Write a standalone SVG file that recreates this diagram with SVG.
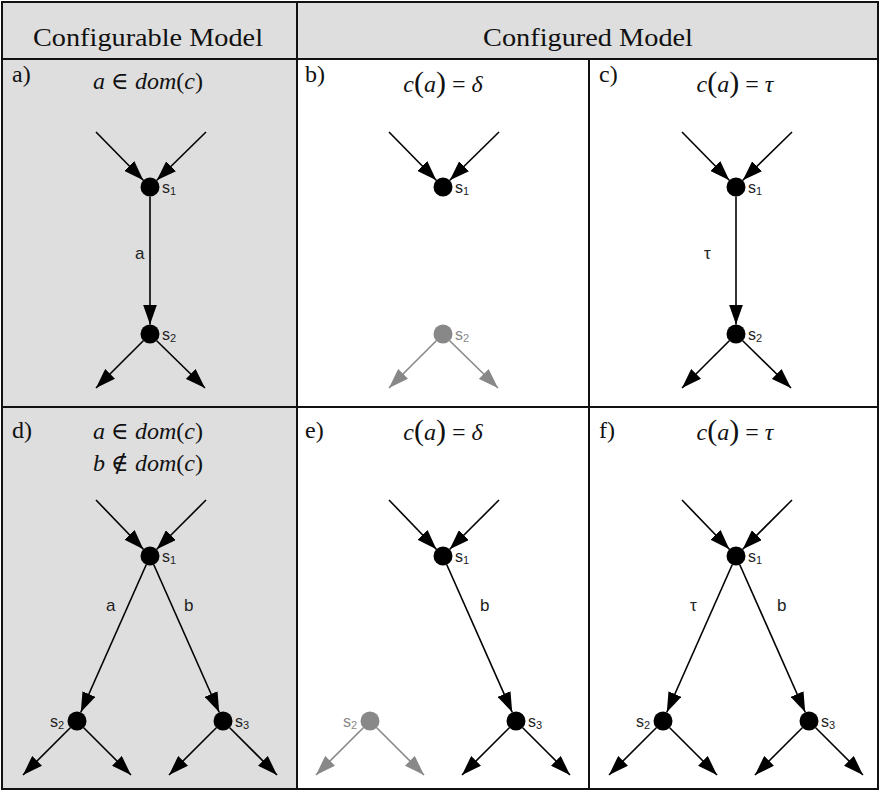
<svg xmlns="http://www.w3.org/2000/svg" width="880" height="791" viewBox="0 0 880 791">
<defs>
<style>
.hdr{font-family:"Liberation Serif","DejaVu Serif",serif;font-size:26px;fill:#111;text-anchor:middle}
.tag{font-family:"Liberation Serif","DejaVu Serif",serif;font-size:24px;fill:#111}
.math{font-family:"Liberation Serif","DejaVu Serif",serif;font-size:24px;fill:#111;text-anchor:middle}
.it{font-style:italic}
.par{font-size:30px}
.lbl{font-family:"Liberation Sans",Arial,sans-serif;font-size:16px;fill:#222}
.elbl{font-family:"Liberation Sans",Arial,sans-serif;font-size:17px;fill:#222}
.sub{font-size:11px}
.edge{stroke:#000;stroke-width:1.6;fill:none;marker-end:url(#ah)}
.gedge{stroke:#888;stroke-width:1.6;fill:none;marker-end:url(#gah)}
.node{fill:#000}
.gnode{fill:#888}
.glbl{fill:#888}
.grid{stroke:#111;stroke-width:2;fill:none}
</style>
<marker id="ah" viewBox="0 0 20 14" refX="20" refY="7" markerWidth="20" markerHeight="14" markerUnits="userSpaceOnUse" orient="auto">
<path d="M0,0 L20,7 L0,14 z" fill="#000"/>
</marker>
<marker id="gah" viewBox="0 0 20 14" refX="20" refY="7" markerWidth="20" markerHeight="14" markerUnits="userSpaceOnUse" orient="auto">
<path d="M0,0 L20,7 L0,14 z" fill="#888"/>
</marker>
</defs>
<rect width="880" height="791" fill="#fff"/>
<rect x="2" y="2" width="876" height="57" fill="#dedede"/>
<rect x="2" y="59" width="295" height="730" fill="#dedede"/>
<g id="grid">
<rect class="grid" x="2" y="2" width="876" height="787"/>
<line class="grid" x1="2" y1="59" x2="878" y2="59"/>
<line class="grid" x1="2" y1="407" x2="878" y2="407"/>
<line class="grid" x1="297" y1="2" x2="297" y2="789"/>
<line class="grid" x1="589" y1="59" x2="589" y2="789"/>
</g>
<g id="headers">
<text class="hdr" x="148" y="46" textLength="230" lengthAdjust="spacingAndGlyphs">Configurable Model</text>
<text class="hdr" x="588" y="46" textLength="210" lengthAdjust="spacingAndGlyphs">Configured Model</text>
</g>
<g id="captions">
<text class="tag" x="12" y="82">a)</text>
<text class="tag" x="305" y="82">b)</text>
<text class="tag" x="599" y="82">c)</text>
<text class="tag" x="12" y="438">d)</text>
<text class="tag" x="305" y="438">e)</text>
<text class="tag" x="599" y="438">f)</text>
<text class="math" x="148" y="89"><tspan class="it">a</tspan> ∈ <tspan class="it">dom</tspan>(<tspan class="it">c</tspan>)</text>
<text class="math" x="443" y="92"><tspan class="it">c</tspan><tspan class="par">(</tspan><tspan class="it">a</tspan><tspan class="par">)</tspan> = <tspan class="it">δ</tspan></text>
<text class="math" x="735" y="92"><tspan class="it">c</tspan><tspan class="par">(</tspan><tspan class="it">a</tspan><tspan class="par">)</tspan> = <tspan class="it">τ</tspan></text>
<text class="math" x="148" y="439"><tspan class="it">a</tspan> ∈ <tspan class="it">dom</tspan>(<tspan class="it">c</tspan>)</text>
<text class="math" x="148" y="471"><tspan class="it">b</tspan> ∉ <tspan class="it">dom</tspan>(<tspan class="it">c</tspan>)</text>
<text class="math" x="443" y="440"><tspan class="it">c</tspan><tspan class="par">(</tspan><tspan class="it">a</tspan><tspan class="par">)</tspan> = <tspan class="it">δ</tspan></text>
<text class="math" x="735" y="440"><tspan class="it">c</tspan><tspan class="par">(</tspan><tspan class="it">a</tspan><tspan class="par">)</tspan> = <tspan class="it">τ</tspan></text>
</g>
<g id="connectors">
<line class="edge" x1="96" y1="132" x2="143.3" y2="180.2"/>
<line class="edge" x1="206" y1="132" x2="156.8" y2="180.3"/>
<line class="edge" x1="150" y1="196.5" x2="150" y2="324.5"/>
<line class="edge" x1="143.3" y1="340.7" x2="96" y2="388"/>
<line class="edge" x1="156.7" y1="340.7" x2="205" y2="388"/>
<line class="edge" x1="389" y1="132" x2="436.3" y2="180.2"/>
<line class="edge" x1="499" y1="132" x2="449.8" y2="180.3"/>
<line class="gedge" x1="436.3" y1="340.7" x2="389" y2="388"/>
<line class="gedge" x1="449.7" y1="340.7" x2="498" y2="388"/>
<line class="edge" x1="682" y1="132" x2="729.3" y2="180.2"/>
<line class="edge" x1="792" y1="132" x2="742.8" y2="180.3"/>
<line class="edge" x1="736" y1="196.5" x2="736" y2="324.5"/>
<line class="edge" x1="729.3" y1="340.7" x2="682" y2="388"/>
<line class="edge" x1="742.7" y1="340.7" x2="791" y2="388"/>
<line class="edge" x1="96" y1="500" x2="143.4" y2="549.2"/>
<line class="edge" x1="206" y1="500" x2="156.7" y2="549.3"/>
<line class="edge" x1="146.2" y1="564.7" x2="80.8" y2="712.3"/>
<line class="edge" x1="153.8" y1="564.7" x2="219.2" y2="712.3"/>
<line class="edge" x1="70.3" y1="727.7" x2="23" y2="775"/>
<line class="edge" x1="83.7" y1="727.7" x2="131" y2="775"/>
<line class="edge" x1="216.3" y1="727.7" x2="169" y2="775"/>
<line class="edge" x1="229.7" y1="727.7" x2="277" y2="775"/>
<line class="edge" x1="389" y1="500" x2="436.4" y2="549.2"/>
<line class="edge" x1="499" y1="500" x2="449.7" y2="549.3"/>
<line class="edge" x1="446.8" y1="564.7" x2="512.2" y2="712.3"/>
<line class="gedge" x1="363.3" y1="727.7" x2="316" y2="775"/>
<line class="gedge" x1="376.7" y1="727.7" x2="424" y2="775"/>
<line class="edge" x1="509.3" y1="727.7" x2="462" y2="775"/>
<line class="edge" x1="522.7" y1="727.7" x2="570" y2="775"/>
<line class="edge" x1="682" y1="500" x2="729.4" y2="549.2"/>
<line class="edge" x1="792" y1="500" x2="742.7" y2="549.3"/>
<line class="edge" x1="732.2" y1="564.7" x2="666.8" y2="712.3"/>
<line class="edge" x1="739.8" y1="564.7" x2="805.2" y2="712.3"/>
<line class="edge" x1="656.3" y1="727.7" x2="609" y2="775"/>
<line class="edge" x1="669.7" y1="727.7" x2="717" y2="775"/>
<line class="edge" x1="802.3" y1="727.7" x2="755" y2="775"/>
<line class="edge" x1="815.7" y1="727.7" x2="863" y2="775"/>
<text class="elbl" x="135" y="259">a</text>
<text class="elbl" x="704" y="259">τ</text>
<text class="elbl" x="106" y="611">a</text>
<text class="elbl" x="184" y="611">b</text>
<text class="elbl" x="480" y="611">b</text>
<text class="elbl" x="690" y="611">τ</text>
<text class="elbl" x="777" y="611">b</text>
</g>
<g id="a_s1"><circle class="node" cx="150" cy="187" r="9.5"/><text class="lbl" x="162" y="193">s<tspan class="sub" dy="2">1</tspan></text></g>
<g id="a_s2"><circle class="node" cx="150" cy="334" r="9.5"/><text class="lbl" x="162" y="340">s<tspan class="sub" dy="2">2</tspan></text></g>
<g id="b_s1"><circle class="node" cx="443" cy="187" r="9.5"/><text class="lbl" x="455" y="193">s<tspan class="sub" dy="2">1</tspan></text></g>
<g id="b_s2"><circle class="gnode" cx="443" cy="334" r="9.5"/><text class="lbl glbl" x="455" y="340">s<tspan class="sub" dy="2">2</tspan></text></g>
<g id="c_s1"><circle class="node" cx="736" cy="187" r="9.5"/><text class="lbl" x="748" y="193">s<tspan class="sub" dy="2">1</tspan></text></g>
<g id="c_s2"><circle class="node" cx="736" cy="334" r="9.5"/><text class="lbl" x="748" y="340">s<tspan class="sub" dy="2">2</tspan></text></g>
<g id="d_s1"><circle class="node" cx="150" cy="556" r="9.5"/><text class="lbl" x="162" y="562">s<tspan class="sub" dy="2">1</tspan></text></g>
<g id="d_s2"><circle class="node" cx="77" cy="721" r="9.5"/><text class="lbl" x="50" y="727">s<tspan class="sub" dy="2">2</tspan></text></g>
<g id="d_s3"><circle class="node" cx="223" cy="721" r="9.5"/><text class="lbl" x="235" y="727">s<tspan class="sub" dy="2">3</tspan></text></g>
<g id="e_s1"><circle class="node" cx="443" cy="556" r="9.5"/><text class="lbl" x="455" y="562">s<tspan class="sub" dy="2">1</tspan></text></g>
<g id="e_s2"><circle class="gnode" cx="370" cy="721" r="9.5"/><text class="lbl glbl" x="343" y="727">s<tspan class="sub" dy="2">2</tspan></text></g>
<g id="e_s3"><circle class="node" cx="516" cy="721" r="9.5"/><text class="lbl" x="528" y="727">s<tspan class="sub" dy="2">3</tspan></text></g>
<g id="f_s1"><circle class="node" cx="736" cy="556" r="9.5"/><text class="lbl" x="748" y="562">s<tspan class="sub" dy="2">1</tspan></text></g>
<g id="f_s2"><circle class="node" cx="663" cy="721" r="9.5"/><text class="lbl" x="636" y="727">s<tspan class="sub" dy="2">2</tspan></text></g>
<g id="f_s3"><circle class="node" cx="809" cy="721" r="9.5"/><text class="lbl" x="821" y="727">s<tspan class="sub" dy="2">3</tspan></text></g>
</svg>
